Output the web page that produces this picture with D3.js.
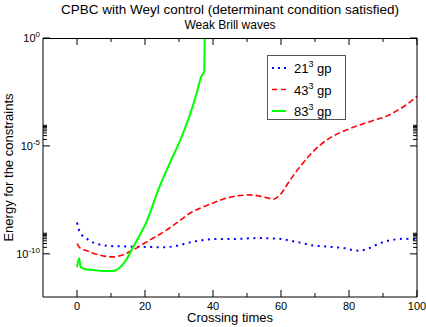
<!DOCTYPE html>
<html><head><meta charset="utf-8">
<script src="https://cdn.jsdelivr.net/npm/d3@7"></script>
<style>body{margin:0;background:#fff}svg{display:block;font-family:"Liberation Sans",Arial,sans-serif}</style>
</head><body><svg id="c" width="426" height="327"></svg>
<script>
const blueT = [0,0.5,1.4,2.8,4.5,6.3,8,10,14,20,25,29.3,33,36.7,40,46,54,58,60.2,62,65.6,69,73,77,79,81,83,85,87,89.6,93,96,98.7,100];
const blueV = [2.8e-9,1.4e-9,7.6e-10,5.1e-10,3.5e-10,2.8e-10,2.45e-10,2.3e-10,2.2e-10,2.1e-10,2.0e-10,2.35e-10,3.3e-10,4.3e-10,4.8e-10,4.9e-10,5.4e-10,5.1e-10,4.9e-10,4.3e-10,3.3e-10,2.5e-10,2.2e-10,1.95e-10,1.8e-10,1.5e-10,1.4e-10,1.6e-10,2.2e-10,3.3e-10,4.5e-10,5.0e-10,4.7e-10,4.4e-10];
const redT = [0,1,2.8,4.8,6.8,8.7,10.7,12.6,14.6,16.6,18.5,20.5,22.4,24.4,26.4,28.3,30.3,33.2,36.2,39.1,42,45,47.9,50.9,53.8,56.3,57.8,59.7,62.6,65.6,68.5,71.5,75.4,79.3,83.2,87.1,91.1,94,97,100];
const redV = [3.0e-10,1.8e-10,1.4e-10,1.07e-10,8.7e-11,7.6e-11,7.2e-11,8.1e-11,1.07e-10,1.55e-10,2.3e-10,3.6e-10,5.4e-10,8.1e-10,1.3e-9,2.1e-9,3.5e-9,7.6e-9,1.3e-8,2.0e-8,3.0e-8,4.2e-8,5.0e-8,5.4e-8,4.7e-8,3.8e-8,3.4e-8,5.4e-8,2.5e-7,1.1e-6,3.8e-6,1.1e-5,2.9e-5,5.5e-5,9.3e-5,1.5e-4,2.4e-4,4.2e-4,8.3e-4,2.0e-3];
const greenT = [0,0.6,1.1,2.4,4.8,7.7,10.2,11.7,13.1,14.6,16.1,18,20.5,23.9,27.3,30.8,33.2,35.2,36.5,37.4,37.6];
const greenV = [2.4e-11,6.3e-11,2.4e-11,1.95e-11,1.8e-11,1.6e-11,1.6e-11,1.8e-11,2.75e-11,5.6e-11,1.55e-10,5.4e-10,3.2e-9,9.1e-8,1.6e-6,2.7e-5,2.75e-4,2.75e-3,1.6e-2,2.75e-2,10];
const seriesNames = ["21", "43", "83"];
const xTicksMajor = [0,20,40,60,80,100];
const xTicksMinor = [10,30,50,70,90];
const yTicksMajor = [1,1e-5,1e-10];
const yTickExp = ["0","-5","-10"];

const svg = d3.select("#c");
const L = 43, R = 417, T = 38, B = 297;
const x = d3.scaleLinear().domain([-10,100]).range([L,R]);
const y = d3.scaleLog().domain([1e-12,1]).range([B,T]);

// title
svg.append("text").attr("x",230).attr("y",14).attr("text-anchor","middle").attr("font-size",13.5).text("CPBC with Weyl control (determinant condition satisfied)");
svg.append("text").attr("x",230).attr("y",29).attr("text-anchor","middle").attr("font-size",12).text("Weak Brill waves");

// clip
svg.append("defs").append("clipPath").attr("id","clip").append("rect").attr("x",L).attr("y",T).attr("width",R-L).attr("height",B-T);

const line = d3.line().x(d=>x(d[0])).y(d=>y(d[1])).curve(d3.curveMonotoneX);
const styles = [
  {t:blueT,v:blueV,c:"#0000ff",dash:"2,4.5",w:2},
  {t:redT,v:redV,c:"#ff0000",dash:"6,3",w:1.6},
  {t:greenT,v:greenV,c:"#00ff00",dash:null,w:2}
];
const g = svg.append("g").attr("clip-path","url(#clip)");
styles.forEach(s=>{
  const p = g.append("path").datum(s.t.map((t,i)=>[t,s.v[i]])).attr("d",line)
    .attr("fill","none").attr("stroke",s.c).attr("stroke-width",s.w);
  if(s.dash) p.attr("stroke-dasharray",s.dash);
});

// frame
const fr = svg.append("g").attr("stroke","#000").attr("stroke-width",1).attr("fill","none");
fr.append("line").attr("x1",L).attr("x2",R).attr("y1",T+0.5).attr("y2",T+0.5);
fr.append("line").attr("x1",L).attr("x2",R).attr("y1",B).attr("y2",B);
fr.append("line").attr("x1",L).attr("x2",L).attr("y1",T).attr("y2",B);
fr.append("line").attr("x1",R).attr("x2",R).attr("y1",T).attr("y2",B);

// ticks
const tk = svg.append("g").attr("stroke","#000").attr("stroke-width",1);
xTicksMajor.forEach(v=>{
  tk.append("line").attr("x1",x(v)).attr("x2",x(v)).attr("y1",B).attr("y2",B-7);
  tk.append("line").attr("x1",x(v)).attr("x2",x(v)).attr("y1",T).attr("y2",T+7);
});
xTicksMinor.forEach(v=>{
  tk.append("line").attr("x1",x(v)).attr("x2",x(v)).attr("y1",B).attr("y2",B-4);
  tk.append("line").attr("x1",x(v)).attr("x2",x(v)).attr("y1",T).attr("y2",T+4);
});
yTicksMajor.forEach(v=>{
  tk.append("line").attr("x1",L).attr("x2",L+7).attr("y1",y(v)).attr("y2",y(v));
  tk.append("line").attr("x1",R).attr("x2",R-7).attr("y1",y(v)).attr("y2",y(v));
  if(v<1){
    for(let k=2;k<=9;k++){
      tk.append("line").attr("x1",L).attr("x2",L+4).attr("y1",y(v*k)).attr("y2",y(v*k));
      tk.append("line").attr("x1",R).attr("x2",R-4).attr("y1",y(v*k)).attr("y2",y(v*k));
    }
  }
});

// tick labels
xTicksMajor.forEach(v=>{
  svg.append("text").attr("x",x(v)).attr("y",309.5).attr("text-anchor","middle").attr("font-size",11).text(v);
});
yTicksMajor.forEach((v,i)=>{
  const t = svg.append("text").attr("x",40).attr("y",y(v)+4).attr("text-anchor","end").attr("font-size",11);
  t.append("tspan").text("10");
  t.append("tspan").attr("dy",-5).attr("font-size",8).text(yTickExp[i]);
});

// axis labels
svg.append("text").attr("x",230).attr("y",322).attr("text-anchor","middle").attr("font-size",13).text("Crossing times");
svg.append("text").attr("transform","translate(13,167.5) rotate(-90)").attr("text-anchor","middle").attr("font-size",13).text("Energy for the constraints");

// legend
const lg = svg.append("g");
lg.append("rect").attr("x",267.5).attr("y",55.5).attr("width",78).attr("height",64).attr("fill","#fff").attr("stroke","#555").attr("stroke-width",1);
styles.forEach((s,i)=>{
  const yy = 68 + i*21.5;
  const l = lg.append("line").attr("x1",272).attr("x2",286).attr("y1",yy).attr("y2",yy).attr("stroke",s.c).attr("stroke-width",s.w);
  if(s.dash) l.attr("stroke-dasharray", i===0?"2,4":"5,4");
  const t = lg.append("text").attr("x",294).attr("y",yy+5).attr("font-size",13);
  t.append("tspan").text(seriesNames[i]);
  t.append("tspan").attr("dy",-6).attr("font-size",9).text("3");
  t.append("tspan").attr("dy",6).text(" gp");
});
</script></body></html>
